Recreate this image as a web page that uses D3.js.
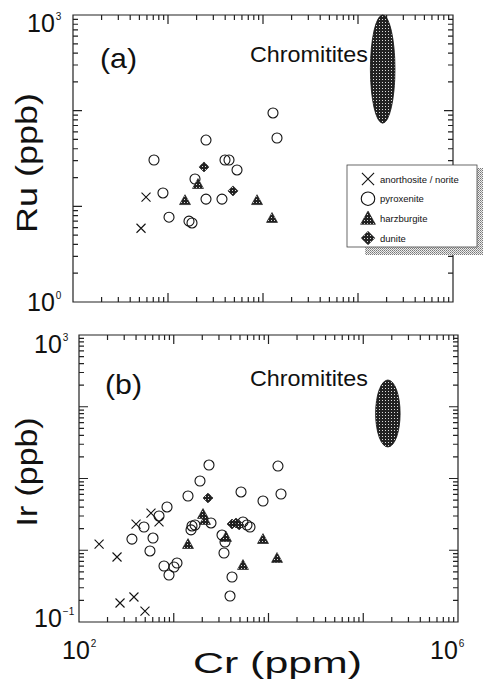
<!DOCTYPE html>
<html>
<head>
<meta charset="utf-8">
<script src="https://cdn.jsdelivr.net/npm/d3@7"></script>
<style>
  body { margin: 0; background: #fff; }
  svg { display: block; }
  text { font-family: "Liberation Sans", Arial, sans-serif; fill: #111; }
</style>
</head>
<body>
<div id="chart"></div>
<script>
// ---- données : [Cr (ppm), teneur (ppb)] ----
const ruAnorthosite = [[587, 12.5], [520, 5.9]];
const ruPyroxenite = [[712, 30.5], [885, 13.8], [1025, 7.7], [1663, 7.0], [1789, 6.7], [1924, 19.3],
  [2512, 49.3], [2512, 11.9], [3700, 11.9], [3981, 30.5], [4387, 30.5], [5326, 24], [12740, 94.6], [14040, 51.8]];
const ruHarzburgite = [[1510, 11.6], [2069, 17.1], [8650, 11.6], [12440, 7.55]];
const ruDunite = [[2393, 25.8], [4831, 14.5]];

const irAnorthosite = [[163, 1.22], [252, 0.805], [271, 0.184], [380, 0.223], [497, 0.142],
  [400, 2.32], [575, 3.30], [699, 2.48]];
const irPyroxenite = [[362, 1.43], [485, 2.11], [604, 1.48], [561, 0.977], [699, 3.0], [849, 4.01],
  [789, 0.603], [891, 0.452], [1006, 0.584], [1082, 0.664], [1414, 5.70], [1892, 9.23], [2355, 15.4],
  [1558, 2.18], [1676, 2.25], [1521, 1.92], [2472, 2.40], [5129, 6.49], [8750, 4.86], [12590, 14.9],
  [13550, 6.08], [3230, 1.63], [3475, 1.30], [3390, 0.916], [4120, 0.424], [3925, 0.230],
  [5380, 2.48], [5930, 2.25], [6380, 2.11]];
const irHarzburgite = [[1414, 1.22], [2035, 3.2], [2138, 2.64], [3560, 1.53], [5380, 0.622], [8750, 1.43], [12300, 0.78]];
const irDunite = [[2300, 5.35], [4120, 2.32], [4540, 2.40], [4890, 2.25]];

// champ des chromitites : [Cr min, Cr max], [teneur min, teneur max]
const chromCr = [135000, 245000];
const chromRu = [74, 1000];
const chromIr = [27.5, 236];

const crDomain = [1e2, 1e6];
const ruDomain = [1e0, 1e3];
const irDomain = [1e-1, 1e3];

const legendLabels = ["anorthosite / norite", "pyroxenite", "harzburgite", "dunite"];
const legendKinds = ["cross", "circle", "triangle", "diamond"];

//---------------------------------------------------------------------------------------

const W = 485, H = 681;
const svg = d3.select("#chart").append("svg")
  .attr("width", W).attr("height", H)
  .attr("viewBox", [0, 0, W, H]);

// motifs "tramés" du scan
const defs = svg.append("defs");
const dark = defs.append("pattern").attr("id", "dark")
  .attr("width", 3).attr("height", 3).attr("patternUnits", "userSpaceOnUse");
dark.append("rect").attr("width", 3).attr("height", 3).attr("fill", "#222");
dark.append("rect").attr("x", 1).attr("y", 1).attr("width", 1).attr("height", 1).attr("fill", "#ddd");
const grey = defs.append("pattern").attr("id", "grey")
  .attr("width", 2).attr("height", 2).attr("patternUnits", "userSpaceOnUse");
grey.append("rect").attr("width", 2).attr("height", 2).attr("fill", "#eee");
grey.append("rect").attr("width", 1).attr("height", 1).attr("fill", "#777");
grey.append("rect").attr("x", 1).attr("y", 1).attr("width", 1).attr("height", 1).attr("fill", "#999");

// dessin d'un symbole
function symbol(g, kind, x, y, big) {
  const s = big ? 1.35 : 1;
  if (kind === "cross") {
    const r = 4.5 * s;
    g.append("path").attr("d", `M${x - r},${y - r}L${x + r},${y + r}M${x - r},${y + r}L${x + r},${y - r}`)
      .attr("stroke", "#111").attr("stroke-width", 1.1).attr("fill", "none");
  } else if (kind === "circle") {
    g.append("circle").attr("cx", x).attr("cy", y).attr("r", 5 * s)
      .attr("stroke", "#111").attr("stroke-width", 1.1).attr("fill", "none");
  } else if (kind === "triangle") {
    const r = 5.5 * s;
    g.append("path").attr("d", `M${x},${y - r}L${x + r},${y + r * 0.8}L${x - r},${y + r * 0.8}Z`)
      .attr("fill", "url(#dark)").attr("stroke", "#111").attr("stroke-width", 0.6);
  } else {
    const r = 5 * s;
    g.append("path").attr("d", `M${x},${y - r}L${x + r},${y}L${x},${y + r}L${x - r},${y}Z`)
      .attr("fill", "url(#dark)").attr("stroke", "#111").attr("stroke-width", 0.6);
  }
}

function powerLabel(g, x, y, exp) {
  const t = g.append("text").attr("x", x).attr("y", y).attr("font-size", 25);
  t.append("tspan").text("10");
  t.append("tspan").text(exp).attr("font-size", 10).attr("dy", -12).attr("dx", 1);
}

const isMajor = v => Math.abs(Math.log10(v) - Math.round(Math.log10(v))) < 1e-6;

function drawPanel(cfg) {
  const x = d3.scaleLog().domain(crDomain).range([cfg.left, cfg.left + cfg.w]);
  const y = d3.scaleLog().domain(cfg.yDomain).range([cfg.top + cfg.h, cfg.top]);
  const g = svg.append("g");
  const x0 = cfg.left, x1 = cfg.left + cfg.w, y0 = cfg.top, y1 = cfg.top + cfg.h;

  // cadre + graduations vers l'intérieur dans un même tracé
  const p = d3.path();
  p.rect(x0, y0, cfg.w, cfg.h);
  x.ticks().filter(v => v > crDomain[0] * 1.001 && v < crDomain[1] * 0.999).forEach(v => {
    const len = isMajor(v) ? 9 : 5, px = x(v);
    p.moveTo(px, y1); p.lineTo(px, y1 - len);
    p.moveTo(px, y0); p.lineTo(px, y0 + len);
  });
  y.ticks().filter(v => v > cfg.yDomain[0] * 1.001 && v < cfg.yDomain[1] * 0.999).forEach(v => {
    const len = isMajor(v) ? 9 : 5, py = y(v);
    p.moveTo(x0, py); p.lineTo(x0 + len, py);
    p.moveTo(x1, py); p.lineTo(x1 - len, py);
  });
  g.append("path").attr("d", p.toString())
    .attr("fill", "none").attr("stroke", "#222").attr("stroke-width", 1.2);

  // champ des chromitites
  const cx0 = x(chromCr[0]), cx1 = x(chromCr[1]);
  const cy0 = y(cfg.chrom[1]), cy1 = y(cfg.chrom[0]);
  g.append("ellipse")
    .attr("cx", (cx0 + cx1) / 2).attr("cy", (cy0 + cy1) / 2)
    .attr("rx", (cx1 - cx0) / 2).attr("ry", (cy1 - cy0) / 2)
    .attr("fill", "url(#dark)").attr("stroke", "#111").attr("stroke-width", 0.8);
  g.append("text").attr("x", cfg.chromText[0]).attr("y", cfg.chromText[1])
    .attr("font-size", 22).attr("textLength", 118).attr("lengthAdjust", "spacingAndGlyphs")
    .text("Chromitites");

  // points
  cfg.series.forEach((s, i) => {
    s.forEach(q => symbol(g, legendKinds[i], x(q[0]), y(q[1]), false));
  });

  // lettre du panneau
  g.append("text").attr("x", cfg.letter[0]).attr("y", cfg.letter[1])
    .attr("font-size", 28).attr("textLength", 37).attr("lengthAdjust", "spacingAndGlyphs")
    .text(cfg.letterText);

  // titre axe y
  g.append("text")
    .attr("transform", `translate(${cfg.yTitle[0]},${cfg.yTitle[1]}) rotate(-90)`)
    .attr("text-anchor", "middle").attr("font-size", 29)
    .attr("textLength", cfg.yTitle[2]).attr("lengthAdjust", "spacingAndGlyphs")
    .text(cfg.yTitleText);

  powerLabel(g, cfg.yLab[0], cfg.yLab[1], cfg.yLab[2]);
  powerLabel(g, cfg.yLab[3], cfg.yLab[4], cfg.yLab[5]);
  return { x, y, g };
}

const pa = drawPanel({
  left: 73, top: 15, w: 380, h: 287,
  yDomain: ruDomain, chrom: chromRu,
  chromText: [250, 62], letter: [100, 68], letterText: "(a)",
  yTitle: [37, 163, 140], yTitleText: "Ru (ppb)",
  yLab: [27, 32, "3", 27, 311, "0"],
  series: [ruAnorthosite, ruPyroxenite, ruHarzburgite, ruDunite]
});

const pb = drawPanel({
  left: 79, top: 335, w: 379, h: 287,
  yDomain: irDomain, chrom: chromIr,
  chromText: [250, 386], letter: [105, 394], letterText: "(b)",
  yTitle: [37, 472, 109], yTitleText: "Ir (ppb)",
  yLab: [34, 353, "3", 34, 627, "\u22121"],
  series: [irAnorthosite, irPyroxenite, irHarzburgite, irDunite]
});

// étiquettes axe x et titre
powerLabel(svg, 62, 659, "2");
powerLabel(svg, 430, 659, "6");
svg.append("text").attr("x", 193).attr("y", 673)
  .attr("font-size", 29).attr("textLength", 169).attr("lengthAdjust", "spacingAndGlyphs")
  .text("Cr (ppm)");

// légende du panneau (a)
const lg = svg.append("g");
lg.append("rect").attr("x", 477).attr("y", 168).attr("width", 6).attr("height", 87).attr("fill", "url(#grey)");
lg.append("rect").attr("x", 365).attr("y", 247).attr("width", 118).attr("height", 8).attr("fill", "url(#grey)");
lg.append("rect").attr("x", 347).attr("y", 165).attr("width", 130).attr("height", 82)
  .attr("fill", "#fff").attr("stroke", "#444").attr("stroke-width", 0.8);
legendLabels.forEach((lab, i) => {
  const yy = 179 + i * 19.7;
  symbol(lg, legendKinds[i], 368, yy, true);
  lg.append("text").attr("x", 380).attr("y", yy + 3.5).attr("font-size", 9.5).text(lab);
});
</script>
</body>
</html>
